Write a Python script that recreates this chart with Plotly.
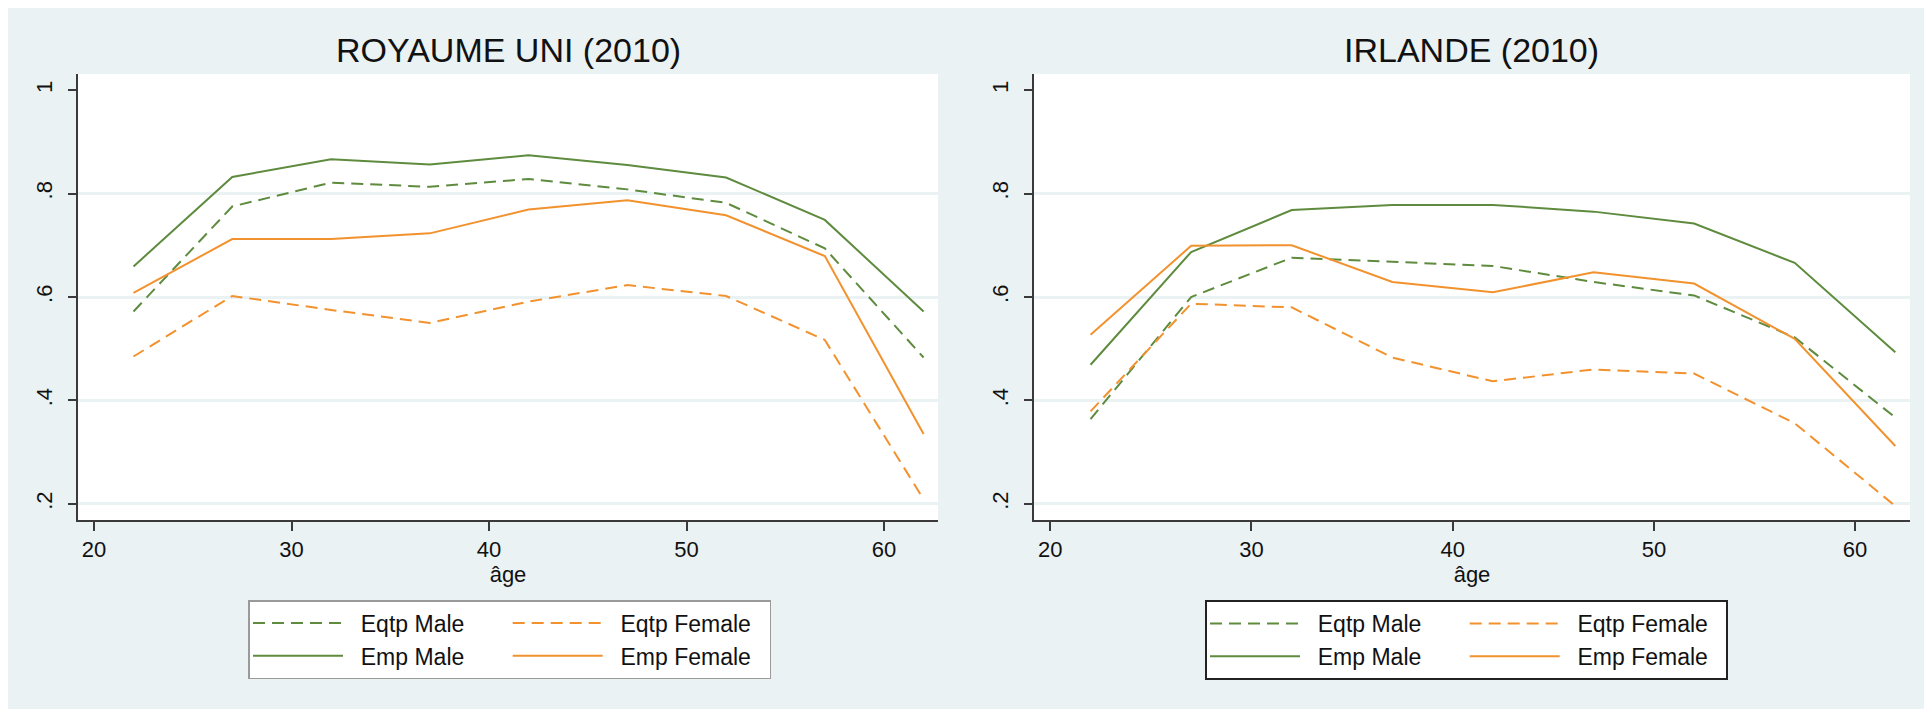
import plotly.graph_objects as go

# ---------------- data ----------------
ages = [22, 27, 32, 37, 42, 47, 52, 57, 62]

uk_eqtp_male = [0.572, 0.775, 0.821, 0.813, 0.828, 0.808, 0.782, 0.694, 0.483]
uk_eqtp_female = [0.485, 0.602, 0.575, 0.550, 0.591, 0.623, 0.602, 0.517, 0.209]
uk_emp_male = [0.659, 0.832, 0.866, 0.856, 0.874, 0.855, 0.831, 0.749, 0.572]
uk_emp_female = [0.608, 0.712, 0.712, 0.723, 0.769, 0.787, 0.758, 0.679, 0.335]

ie_eqtp_male = [0.364, 0.600, 0.676, 0.668, 0.660, 0.629, 0.603, 0.522, 0.367]
ie_eqtp_female = [0.379, 0.587, 0.580, 0.483, 0.437, 0.460, 0.452, 0.356, 0.196]
ie_emp_male = [0.469, 0.687, 0.768, 0.778, 0.778, 0.765, 0.742, 0.666, 0.493]
ie_emp_female = [0.527, 0.699, 0.700, 0.629, 0.609, 0.648, 0.626, 0.519, 0.312]

panel_titles = ["ROYAUME UNI (2010)", "IRLANDE (2010)"]
series_names = ["Eqtp Male", "Eqtp Female", "Emp Male", "Emp Female"]
x_tickvals = [20, 30, 40, 50, 60]
y_tickvals = [0.2, 0.4, 0.6, 0.8, 1.0]
y_ticktext = [".2", ".4", ".6", ".8", "1"]
y_gridvals = [0.2, 0.4, 0.6, 0.8]
x_title = "âge"

# ---------------- style ----------------
# the page body adds an 8px white margin; the figure fills the rest
W, H = 1924, 701
BG = "#EAF2F3"
GREEN = "#5E8B3E"
ORANGE = "#F2922E"
FONT = "Arial, Liberation Sans, sans-serif"
DASH = "12px,7px"
NB = "\u00a0"

fig = go.Figure()

panels = [
    (uk_eqtp_male, uk_eqtp_female, uk_emp_male, uk_emp_female),
    (ie_eqtp_male, ie_eqtp_female, ie_emp_male, ie_emp_female),
]
styles = [
    (GREEN, DASH, "male"),
    (ORANGE, DASH, "female"),
    (GREEN, "solid", "male"),
    (ORANGE, "solid", "female"),
]
pad_names = [NB * 6, NB * 2, NB * 6, NB * 2]

for p, series in enumerate(panels):
    xa = "x" if p == 0 else "x2"
    ya = "y" if p == 0 else "y2"
    leg = "legend" if p == 0 else "legend2"
    for i, vals in enumerate(series):
        color, dash, grp = styles[i]
        fig.add_trace(go.Scatter(
            x=ages, y=vals, mode="lines",
            name=NB * 2 + series_names[i] + pad_names[i],
            line=dict(color=color, width=2, dash=dash),
            xaxis=xa, yaxis=ya, legend=leg,
            legendgroup=f"{grp}{p}",
            showlegend=True,
        ))

y_dom = [1 - 512 / H, 1 - 66 / H]
x_doms = [[70 / W, 930 / W], [1026 / W, 1902 / W]]

axis_common_x = dict(
    range=[19.19, 62.73], tickvals=x_tickvals, showgrid=False, zeroline=False,
    showline=True, linecolor="#3a3a3a", linewidth=1.5,
    ticks="outside", ticklen=9, tickwidth=1.5, tickcolor="#3a3a3a",
    tickfont=dict(family=FONT, size=22, color="#111"),
    title=dict(text=x_title, font=dict(family=FONT, size=22, color="#111"), standoff=4),
)
axis_common_y = dict(
    range=[0.169, 1.031], tickvals=y_tickvals, ticktext=y_ticktext,
    showgrid=False, zeroline=False,
    minor=dict(tickvals=y_gridvals, showgrid=True, gridcolor=BG, gridwidth=2.5, ticks=""),
    showline=True, linecolor="#3a3a3a", linewidth=1.5,
    ticks="outside", ticklen=8, tickwidth=1.5, tickcolor="#3a3a3a",
    tickangle=-90, ticklabelstandoff=7,
    tickfont=dict(family=FONT, size=22, color="#111"),
)

fig.update_layout(
    width=W, height=H,
    margin=dict(l=0, r=0, t=0, b=0),
    paper_bgcolor=BG, plot_bgcolor="white",
    font=dict(family=FONT, color="#111"),
    xaxis=dict(domain=x_doms[0], anchor="y", **axis_common_x),
    yaxis=dict(domain=y_dom, anchor="x", **axis_common_y),
    xaxis2=dict(domain=x_doms[1], anchor="y2", **axis_common_x),
    yaxis2=dict(domain=y_dom, anchor="x2", **axis_common_y),
    legend=dict(
        orientation="h", traceorder="grouped", x=240 / W, y=1 - 592 / H,
        xanchor="left", yanchor="top", bgcolor="white",
        bordercolor="#9a9a9a", borderwidth=1.5, itemwidth=90,
        font=dict(family=FONT, size=23, color="#111"),
        itemclick=False, itemdoubleclick=False,
    ),
    legend2=dict(
        orientation="h", traceorder="grouped", x=1197 / W, y=1 - 592 / H,
        xanchor="left", yanchor="top", bgcolor="white",
        bordercolor="#222", borderwidth=2, itemwidth=90,
        font=dict(family=FONT, size=23, color="#111"),
        itemclick=False, itemdoubleclick=False,
    ),
    showlegend=True,
)

for p, t in enumerate(panel_titles):
    cx = (x_doms[p][0] + x_doms[p][1]) / 2
    fig.add_annotation(text=t, xref="paper", yref="paper", x=cx, y=1 - 42 / H,
                       xanchor="center", yanchor="middle", showarrow=False,
                       font=dict(family=FONT, size=34, color="#111"))

fig.write_html("out.html")
